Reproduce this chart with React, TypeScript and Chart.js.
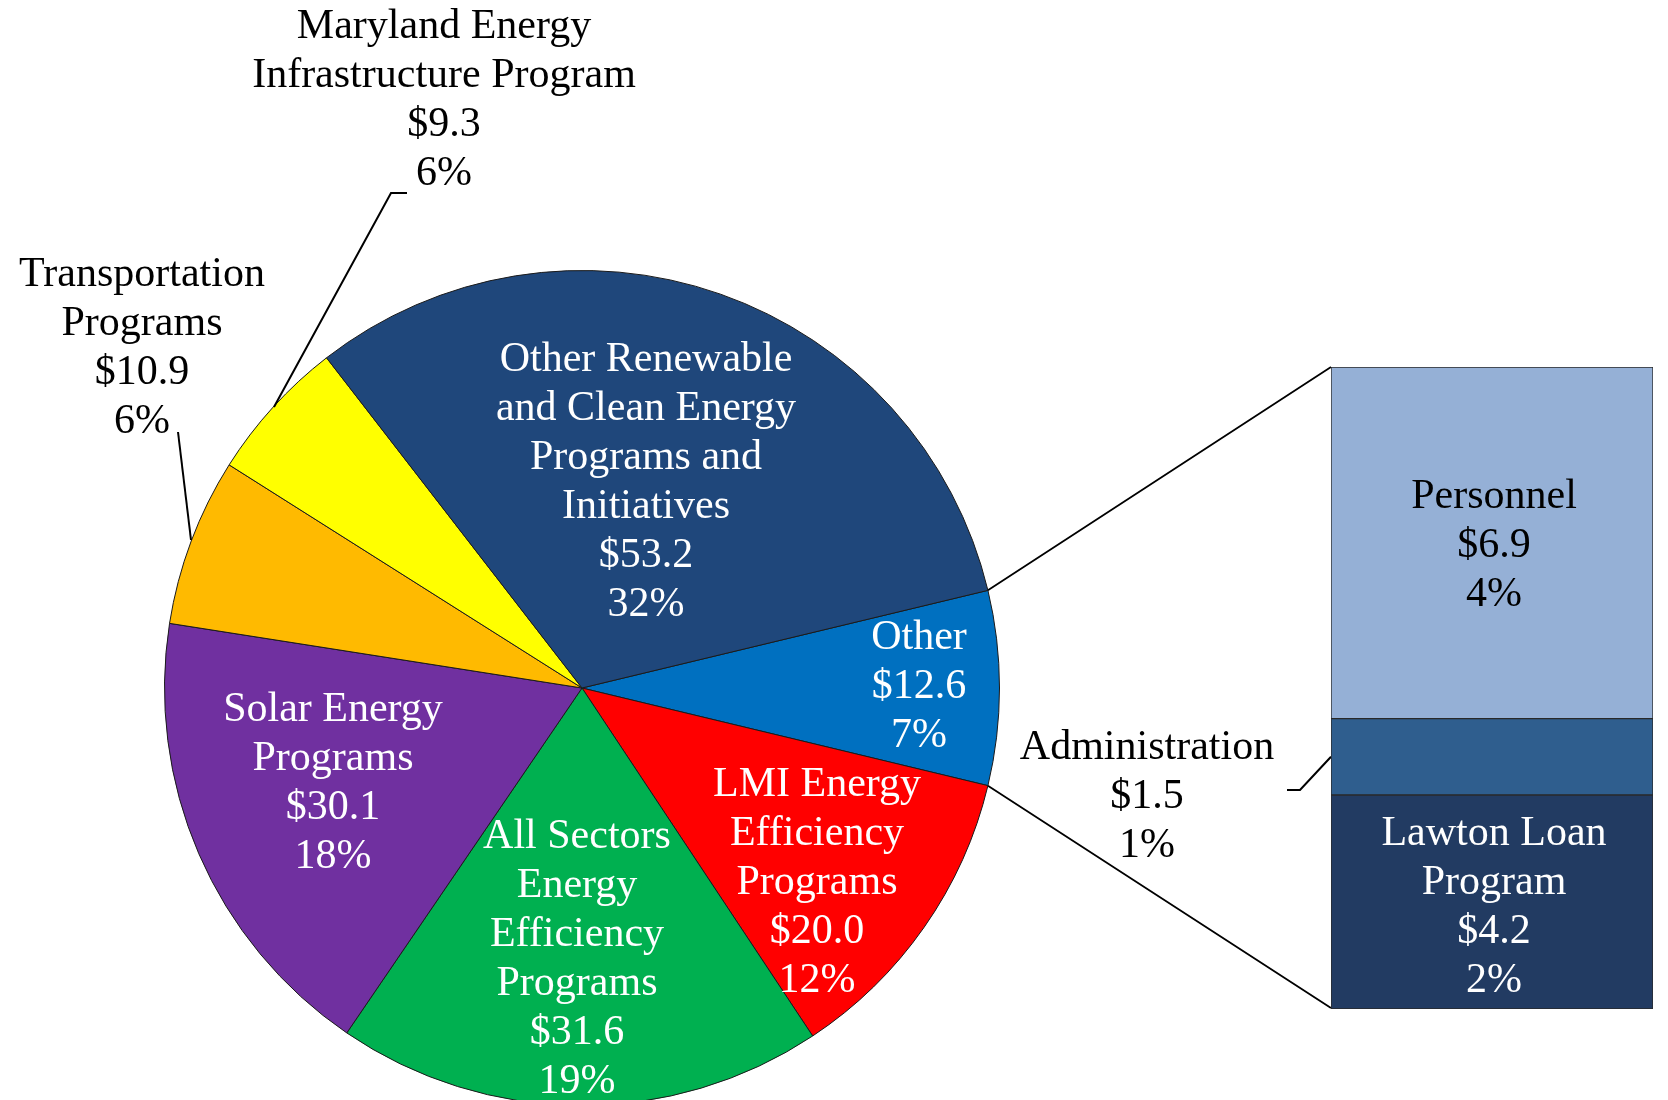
import React, { useEffect, useRef } from "react";
import { Chart, registerables } from "chart.js";

Chart.register(...registerables);

// ---------- data ----------
const sliceNames = [
  "Other",
  "LMI Energy Efficiency Programs",
  "All Sectors Energy Efficiency Programs",
  "Solar Energy Programs",
  "Transportation Programs",
  "Maryland Energy Infrastructure Program",
  "Other Renewable and Clean Energy Programs and Initiatives",
];
const sliceValues = [12.6, 20.0, 31.6, 30.1, 10.9, 9.3, 53.2];
const slicePercents = ["7%", "12%", "19%", "18%", "6%", "6%", "32%"];
const sliceTextLines = [
  ["Other"],
  ["LMI Energy", "Efficiency", "Programs"],
  ["All Sectors", "Energy", "Efficiency", "Programs"],
  ["Solar Energy", "Programs"],
  ["Transportation", "Programs"],
  ["Maryland Energy", "Infrastructure Program"],
  ["Other Renewable", "and Clean Energy", "Programs and", "Initiatives"],
];
const sliceColors = ["#0070C0", "#FF0000", "#00B050", "#7030A0", "#FFBA00", "#FFFF00", "#1F477B"];

const barNames = ["Lawton Loan Program", "Administration", "Personnel"];
const barValues = [4.2, 1.5, 6.9];
const barPercents = ["2%", "1%", "4%"];
const barTextLines = [["Lawton Loan", "Program"], ["Administration"], ["Personnel"]];
const barColors = ["#223B62", "#2F5E8E", "#95B0D6"];

// ---------- layout ----------
const W = 1668;
const H = 1100;
const PIE_CANVAS_H = 1120;
const PIE_PAD = { left: 164, right: 668, top: 270, bottom: 14 };
const BAR_BOX = { left: 1331, top: 367, width: 322, height: 642 };
const FONT = '42px "Liberation Serif", "Times New Roman", serif';
const LINE_H = 49;
const TEXT_SHIFT = 3;

// label anchor: offset of first line's middle from pie center, text colour
const sliceLabelPos = [
  { dx: 337, dy: -53, color: "#FFFFFF" },
  { dx: 235, dy: 94, color: "#FFFFFF" },
  { dx: -5, dy: 146, color: "#FFFFFF" },
  { dx: -249, dy: 19, color: "#FFFFFF" },
  { dx: -440, dy: -416, color: "#000000" },
  { dx: -138, dy: -664, color: "#000000" },
  { dx: 64, dy: -331, color: "#FFFFFF" },
];
// leader lines (offsets from pie center) for outside labels
const leaderLines: Record<number, number[][]> = {
  4: [
    [-404, -256],
    [-391, -148],
  ],
  5: [
    [-175, -495],
    [-191, -495],
    [-308, -281],
  ],
};
const adminLabelPos = { x: 1147, y: 745 };
const adminLeader = [
  [1287, 790],
  [1300, 790],
];

function drawLines(ctx: CanvasRenderingContext2D, lines: string[], x: number, y: number, color: string) {
  ctx.save();
  ctx.font = FONT;
  ctx.fillStyle = color;
  ctx.textAlign = "center";
  ctx.textBaseline = "middle";
  lines.forEach((l, i) => ctx.fillText(l, x, y + TEXT_SHIFT + i * LINE_H));
  ctx.restore();
}

const total = sliceValues.reduce((a, b) => a + b, 0);
const barTotal = barValues.reduce((a, b) => a + b, 0);

const pieLabelPlugin = {
  id: "pieLabels",
  afterDatasetsDraw(chart: any) {
    const ctx: CanvasRenderingContext2D = chart.ctx;
    const meta = chart.getDatasetMeta(0);
    const arcs = meta.data;
    const cx = arcs[0].x;
    const cy = arcs[0].y;
    const r = arcs[0].outerRadius;

    // leader lines
    ctx.save();
    ctx.strokeStyle = "#000";
    ctx.lineWidth = 2;
    Object.keys(leaderLines).forEach((k) => {
      const pts = leaderLines[+k];
      ctx.beginPath();
      pts.forEach((p, i) => {
        const x = cx + p[0];
        const y = cy + p[1];
        if (i === 0) ctx.moveTo(x, y);
        else ctx.lineTo(x, y);
      });
      ctx.stroke();
    });

    // connectors from the "Other" slice to the bar
    const other = arcs[0];
    const p1 = [cx + r * Math.cos(other.startAngle), cy + r * Math.sin(other.startAngle)];
    const p2 = [cx + r * Math.cos(other.endAngle), cy + r * Math.sin(other.endAngle)];
    ctx.lineWidth = 1.8;
    ctx.beginPath();
    ctx.moveTo(p1[0], p1[1]);
    ctx.lineTo(BAR_BOX.left, BAR_BOX.top);
    ctx.moveTo(p2[0], p2[1]);
    ctx.lineTo(BAR_BOX.left, BAR_BOX.top + BAR_BOX.height - 1);
    ctx.stroke();

    // administration leader
    const adminMidY =
      BAR_BOX.top + BAR_BOX.height * (1 - (barValues[0] + barValues[1] / 2) / barTotal);
    ctx.lineWidth = 2;
    ctx.beginPath();
    ctx.moveTo(adminLeader[0][0], adminLeader[0][1]);
    ctx.lineTo(adminLeader[1][0], adminLeader[1][1]);
    ctx.lineTo(BAR_BOX.left, adminMidY);
    ctx.stroke();
    ctx.restore();

    // slice labels
    sliceValues.forEach((v, i) => {
      const pos = sliceLabelPos[i];
      const lines = [...sliceTextLines[i], `$${v.toFixed(1)}`, slicePercents[i]];
      drawLines(ctx, lines, cx + pos.dx, cy + pos.dy, pos.color);
    });

    // administration label (outside bar)
    drawLines(
      ctx,
      [...barTextLines[1], `$${barValues[1].toFixed(1)}`, barPercents[1]],
      adminLabelPos.x,
      adminLabelPos.y,
      "#000000"
    );
  },
};

const barLabelPlugin = {
  id: "barLabels",
  afterDatasetsDraw(chart: any) {
    const ctx: CanvasRenderingContext2D = chart.ctx;
    barValues.forEach((v, i) => {
      if (i === 1) return; // administration labelled outside
      const el = chart.getDatasetMeta(i).data[0];
      const midY = (el.y + el.base) / 2;
      const lines = [...barTextLines[i], `$${v.toFixed(1)}`, barPercents[i]];
      const color = i === 2 ? "#000000" : "#FFFFFF";
      const extra = i === 0 ? 2 : 0;
      drawLines(ctx, lines, el.x + 2, midY + extra - ((lines.length - 1) * LINE_H) / 2, color);
    });
  },
};

export default function App() {
  const pieRef = useRef<HTMLCanvasElement>(null);
  const barRef = useRef<HTMLCanvasElement>(null);

  useEffect(() => {
    document.body.style.margin = "0";
    const otherSweep = (sliceValues[0] / total) * 360;
    const pie = new Chart(pieRef.current!, {
      type: "pie",
      data: {
        labels: sliceNames,
        datasets: [
          {
            data: sliceValues,
            backgroundColor: sliceColors,
            borderColor: "#1a1a1a",
            borderWidth: 1,
          },
        ],
      },
      options: {
        responsive: false,
        animation: false,
        devicePixelRatio: 1,
        rotation: 90 - otherSweep / 2,
        layout: { padding: PIE_PAD },
        plugins: { legend: { display: false }, tooltip: { enabled: false } },
        events: [],
      },
      plugins: [pieLabelPlugin],
    });

    const bar = new Chart(barRef.current!, {
      type: "bar",
      data: {
        labels: [""],
        datasets: barValues.map((v, i) => ({
          label: barNames[i],
          data: [v],
          backgroundColor: barColors[i],
          borderColor: "#2a2a2a",
          borderWidth: 1,
          borderSkipped: false,
          barPercentage: 1,
          categoryPercentage: 1,
        })),
      },
      options: {
        responsive: false,
        animation: false,
        devicePixelRatio: 1,
        layout: { padding: 0 },
        scales: {
          x: { display: false, stacked: true },
          y: { display: false, stacked: true, min: 0, max: barTotal },
        },
        plugins: { legend: { display: false }, tooltip: { enabled: false } },
        events: [],
      },
      plugins: [barLabelPlugin],
    });

    return () => {
      pie.destroy();
      bar.destroy();
    };
  }, []);

  return (
    <div style={{ position: "relative", width: W, height: H, overflow: "hidden", background: "#fff" }}>
      <canvas
        ref={pieRef}
        width={W}
        height={PIE_CANVAS_H}
        style={{ position: "absolute", left: 0, top: 0, width: W, height: PIE_CANVAS_H }}
      />
      <canvas
        ref={barRef}
        width={BAR_BOX.width}
        height={BAR_BOX.height}
        style={{
          position: "absolute",
          left: BAR_BOX.left,
          top: BAR_BOX.top,
          width: BAR_BOX.width,
          height: BAR_BOX.height,
        }}
      />
    </div>
  );
}
